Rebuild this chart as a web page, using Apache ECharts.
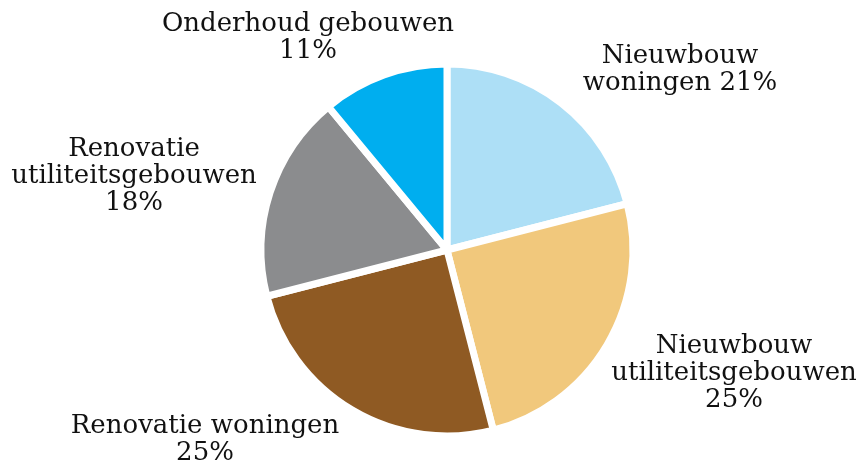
<!DOCTYPE html>
<html>
<head>
	<meta charset="utf-8">
	<script src="https://cdn.jsdelivr.net/npm/echarts@6/dist/echarts.min.js"></script>
	<title>Pie</title>
</head>
<body style="margin:0;background:#fff;">
	<div id="main" style="width: 860px;height:462px;"></div>

	<script type="text/javascript">
	    // categories and values (percent)
	    var names = ['Nieuwbouw\nwoningen', 'Nieuwbouw\nutiliteitsgebouwen', 'Renovatie woningen', 'Renovatie\nutiliteitsgebouwen', 'Onderhoud gebouwen'];
	    var values = [21, 25, 25, 18, 11];
	    var colors = ['#addff6', '#f1c87c', '#8f5a23', '#8b8c8e', '#00aeef'];
	    // label texts as they appear
	    var labelTexts = ['Nieuwbouw\nwoningen 21%', 'Nieuwbouw\nutiliteitsgebouwen\n25%', 'Renovatie woningen\n25%', 'Renovatie\nutiliteitsgebouwen\n18%', 'Onderhoud gebouwen\n11%'];
	    // label block centres
	    var labelPos = [[680, 70], [734, 373], [205, 440], [134, 176], [308, 38]];

	    var myChart = echarts.init(document.getElementById('main'));

	    var data = [];
	    for (var i = 0; i < names.length; i++) {
	        data.push({ name: names[i], value: values[i], itemStyle: { color: colors[i] } });
	    }

	    var option = {
	        animation: false,
	        series: [{
	            type: 'pie',
	            center: [447, 250],
	            radius: 186,
	            startAngle: 90,
	            clockwise: true,
	            data: data,
	            itemStyle: { borderColor: '#ffffff', borderWidth: 7 },
	            label: {
	                show: true,
	                position: 'outside',
	                formatter: function (p) { return labelTexts[p.dataIndex]; },
	                fontFamily: 'DejaVu Serif',
	                fontSize: 26,
	                lineHeight: 27,
	                color: '#111',
	                align: 'center',
	                overflow: 'none',
	                width: 400
	            },
	            labelLine: { show: false },
	            labelLayout: function (p) {
	                return {
	                    x: labelPos[p.dataIndex][0],
	                    y: labelPos[p.dataIndex][1],
	                    align: 'center',
	                    verticalAlign: 'middle'
	                };
	            },
	            emphasis: { disabled: true }
	        }]
	    };

	    myChart.setOption(option);
    </script>
</body>
</html>
